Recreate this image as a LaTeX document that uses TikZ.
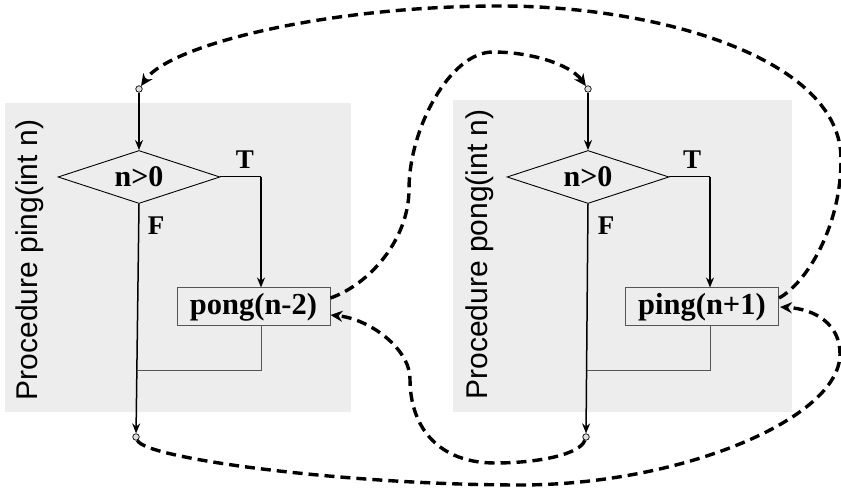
\documentclass[tikz,border=0pt]{standalone}
\usepackage{fontspec}
\setmainfont{Liberation Serif}
\newfontfamily\sansf{Liberation Sans}
\usetikzlibrary{arrows.meta,shapes.geometric,calc}
\definecolor{panelgray}{HTML}{EDEDED}
\definecolor{boxline}{HTML}{555555}
\tikzset{
  panel/.style={fill=panelgray, draw=none},
  plabel/.style={rotate=90, anchor=base, inner sep=0pt, font=\sansf\fontsize{30}{36}\selectfont},
  cond/.style={diamond, draw, line width=0.9pt, shape aspect=3, inner sep=0pt,
    minimum width=162pt, minimum height=53pt, font=\bfseries\fontsize{30}{36}\selectfont},
  callbox/.style={rectangle, draw=boxline, line width=1pt, inner sep=0pt,
    minimum width=153pt, minimum height=38pt, font=\bfseries\fontsize{30.5}{36}\selectfont},
  tf/.style={inner sep=0pt, font=\bfseries\fontsize{27}{32}\selectfont},
  port/.style={circle, draw, fill=gray!25, line width=0.7pt, inner sep=0pt, minimum size=6.5pt},
  flow/.style={line width=1.5pt, -{Stealth[length=10pt,width=8pt]}},
  thinline/.style={line width=1pt},
  mergeline/.style={line width=1pt, draw=boxline},
  callarrow/.style={line width=3.4pt, dash pattern=on 10pt off 6pt,
    -{Stealth[length=12pt,width=11pt]}},
}
\begin{document}
\begin{tikzpicture}[x=1pt,y=1pt]
\useasboundingbox (0,0) rectangle (841,489);
% panels
\path[panel] (5,77) rectangle (351,386);
\path[panel] (453,77) rectangle (792,389);
\node[plabel] (lab1) at (37,229) {Procedure ping(int n)};
\node[plabel] (lab2) at (487,234.5) {Procedure pong(int n)};
% ping
\node[port] (c1t) at (139,400) {};
\node[cond] (d1) at (139,312) {n>0};
\node[callbox] (b1) at (253.5,182) {pong(n-2)};
\node[port] (c1b) at (136,52) {};
\node[tf] (T1) at (245,329) {T};
\node[tf] (F1) at (156,263.5) {F};
\coordinate (t1) at (261,312);
\coordinate (m1) at ($(d1.south)!0.7167!(c1b)$);
\draw[flow] (c1t) -- (d1.north);
\draw[flow] (d1.south) -- (c1b);
\draw[thinline] (d1.east) -- (t1);
\draw[flow] (t1) -- (t1 |- b1.north);
\draw[mergeline] (t1 |- b1.south) |- (m1);
% pong
\node[port] (c2t) at (588,400) {};
\node[cond] (d2) at (588,312) {n>0};
\node[callbox] (b2) at (702,182) {ping(n+1)};
\node[port] (c2b) at (586,52) {};
\node[tf] (T2) at (692,329) {T};
\node[tf] (F2) at (606,263.5) {F};
\coordinate (t2) at (710,312);
\coordinate (m2) at ($(d2.south)!0.7167!(c2b)$);
\draw[flow] (c2t) -- (d2.north);
\draw[flow] (d2.south) -- (c2b);
\draw[thinline] (d2.east) -- (t2);
\draw[flow] (t2) -- (t2 |- b2.north);
\draw[mergeline] (t2 |- b2.south) |- (m2);
% call / return curves
\coordinate (a1) at (409,300);
\coordinate (a2) at (493,437);
\draw[callarrow] ($(b1.east)+(0,9)$) .. controls (370,205) and (409,250) .. (a1)
  .. controls (409,360) and (450,437) .. (a2)
  .. controls (530,437) and (570,425) .. (c2t);
\coordinate (bw1) at (841,330);
\coordinate (bw2) at (500,483);
\draw[callarrow] ($(b2.east)+(0,9)$) .. controls (805,205) and (841,260) .. (bw1)
  .. controls (841,430) and (660,483) .. (bw2)
  .. controls (330,483) and (170,445) .. (c1t);
\coordinate (cw1) at (520,4);
\coordinate (cw2) at (840,135);
\draw[callarrow] (c1b) .. controls (145,30) and (350,4) .. (cw1)
  .. controls (680,4) and (840,70) .. (cw2)
  .. controls (840,165) and (815,180) .. ($(b2.east)+(1,0)$);
\coordinate (dw1) at (495,26);
\coordinate (dw2) at (410,110);
\draw[callarrow] (c2b) .. controls (580,35) and (540,26) .. (dw1)
  .. controls (440,26) and (410,60) .. (dw2)
  .. controls (410,140) and (370,170) .. ($(b1.east)+(0,-8)$);
\end{tikzpicture}
\end{document}
